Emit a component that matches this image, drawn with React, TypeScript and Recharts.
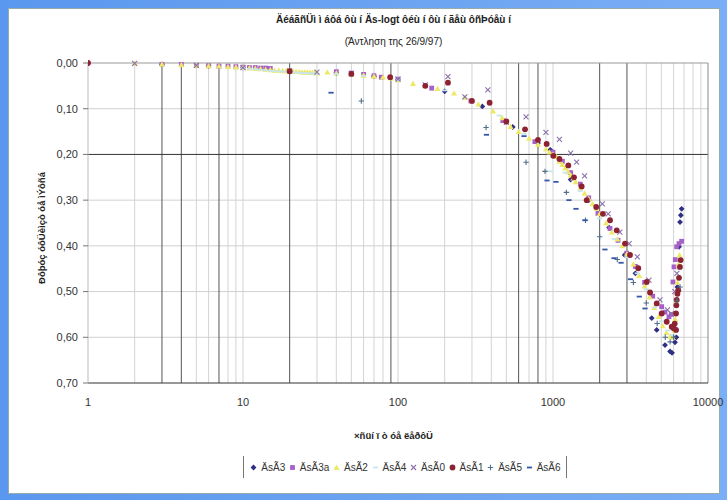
import React from "react";
import { ScatterChart, Scatter, XAxis, YAxis, ReferenceLine } from "recharts";

const title = "ÄéáãñÜì ì áôá ôù í  Äs-logt ôéù í  ôù í  ãåù ôñÞóåù í";
const subtitle = "(Άντληση της 26/9/97)";
const xTitle = "×ñüí ï ò óå ëåðôÜ";
const yTitle = "Ðôþóç óôÜèìçò óå ìÝôñá";

const xTicks = [1, 10, 100, 1000, 10000];
const yTicks = [0, 0.1, 0.2, 0.3, 0.4, 0.5, 0.6, 0.7];
const lightGridX = [2, 5, 6, 8, 9, 10, 30, 40, 50, 60, 70, 80, 100, 200, 300, 400, 500, 700, 900, 1000, 4000, 5000, 6000, 7000, 8000, 9000];
const darkGridX = [3, 4, 7, 20, 90, 600, 800, 2000, 3000];
const lightGridY = [0.1, 0.3, 0.4, 0.5, 0.6];
const darkGridY = [0.2];

const dsG3: [number, number][] = [
  [1, 0], [3, 0.003], [6, 0.006], [10, 0.01], [20, 0.018], [40, 0.022], [70, 0.029], [100, 0.036],
  [200, 0.062], [350, 0.095], [550, 0.14], [800, 0.175], [960, 0.19], [1300, 0.255], [1700, 0.3],
  [2300, 0.36], [2900, 0.42], [3400, 0.46], [4335, 0.558], [4668, 0.584], [5280, 0.617], [5690, 0.631],
  [5860, 0.634], [6125, 0.611], [6250, 0.6], [6350, 0.49], [6500, 0.402], [6600, 0.348], [6680, 0.333], [6760, 0.319],
];
const dsG3a: [number, number][] = [
  [3, 0.003], [4, 0.003], [5, 0.005], [6, 0.006], [7, 0.007], [8, 0.007], [9, 0.008], [10, 0.009],
  [11, 0.01], [12, 0.01], [13, 0.011], [14, 0.011], [15, 0.012], [40, 0.019], [50, 0.022], [60, 0.025],
  [70, 0.028], [78, 0.031], [100, 0.036], [165, 0.055], [295, 0.083], [474, 0.126], [764, 0.172],
  [1000, 0.195], [1150, 0.215], [1300, 0.24], [1500, 0.265], [1700, 0.295], [1950, 0.329], [2333, 0.362],
  [2626, 0.388], [2988, 0.416], [3400, 0.445], [3900, 0.48], [4400, 0.51], [5025, 0.533], [5280, 0.545],
  [5600, 0.555], [5800, 0.55], [5943, 0.479], [6035, 0.446], [6150, 0.43], [6280, 0.402], [6500, 0.395], [6760, 0.39],
];
const dsG2: [number, number][] = [
  [2, 0.001], [3, 0.003], [4, 0.004], [5, 0.005], [6, 0.006], [7, 0.007], [8, 0.008], [9, 0.009], [10, 0.01],
  [11, 0.011], [12, 0.012], [13, 0.013], [14, 0.014], [15, 0.015], [16, 0.016], [17, 0.016], [18, 0.017],
  [19, 0.017], [20, 0.018], [21, 0.018], [22, 0.019], [23, 0.019], [24, 0.02], [25, 0.02], [26, 0.02],
  [27, 0.021], [28, 0.021], [29, 0.021], [30, 0.022], [35, 0.02], [40, 0.022], [50, 0.024], [60, 0.027],
  [70, 0.029], [80, 0.031], [90, 0.033], [100, 0.037], [125, 0.045], [150, 0.05], [180, 0.056], [230, 0.066],
  [270, 0.075], [330, 0.09], [410, 0.105], [470, 0.12], [532, 0.139], [600, 0.15], [700, 0.165], [800, 0.178],
  [900, 0.188], [950, 0.195], [1000, 0.2], [1050, 0.205], [1100, 0.215], [1150, 0.222], [1200, 0.23],
  [1250, 0.238], [1300, 0.245], [1350, 0.252], [1400, 0.26], [1500, 0.272], [1600, 0.285], [1700, 0.297],
  [1800, 0.308], [1900, 0.318], [2000, 0.33], [2200, 0.35], [2400, 0.37], [2600, 0.385], [2800, 0.4],
  [3000, 0.418], [3300, 0.44], [3600, 0.465], [3900, 0.488], [4200, 0.512], [4500, 0.535], [4800, 0.555],
  [5100, 0.575], [5400, 0.59], [5700, 0.598], [5900, 0.6], [6050, 0.585], [6150, 0.56], [6250, 0.52],
  [6350, 0.48], [6450, 0.44], [6550, 0.42],
];
const dsG4: [number, number][] = [
  [10, 0.012], [11, 0.013], [12, 0.014], [13, 0.015], [14, 0.016], [15, 0.017], [16, 0.018], [17, 0.018],
  [18, 0.019], [19, 0.019], [20, 0.02], [21, 0.02], [22, 0.021], [23, 0.021], [24, 0.022], [25, 0.022],
  [26, 0.022], [27, 0.023], [28, 0.023], [29, 0.023], [30, 0.024], [40, 0.024], [60, 0.028], [100, 0.038],
  [200, 0.06], [300, 0.085], [450, 0.115], [650, 0.155], [960, 0.237], [1000, 0.205], [1200, 0.24],
  [1500, 0.28], [2000, 0.34], [2500, 0.385], [3000, 0.425], [3500, 0.46], [4000, 0.495], [4500, 0.535],
  [5000, 0.565], [5500, 0.585], [5900, 0.595], [6100, 0.575], [6300, 0.5], [6500, 0.45],
];
const dsG0: [number, number][] = [
  [2, 0.001], [5, 0.005], [10, 0.01], [20, 0.017], [30, 0.02], [50, 0.023], [100, 0.035], [150, 0.048],
  [210, 0.03], [270, 0.074], [380, 0.059], [500, 0.13], [670, 0.118], [900, 0.152], [1100, 0.167],
  [1300, 0.197], [1420, 0.217], [1600, 0.247], [2080, 0.308], [2270, 0.33], [2700, 0.37], [3100, 0.395],
  [3500, 0.424], [4160, 0.475], [4900, 0.518], [5470, 0.54], [5800, 0.548], [6100, 0.5], [6300, 0.46],
];
const dsG1: [number, number][] = [
  [1, 0], [20, 0.018], [50, 0.024], [89, 0.031], [150, 0.05], [210, 0.043], [300, 0.083], [390, 0.087],
  [500, 0.128], [660, 0.145], [800, 0.168], [910, 0.177], [1005, 0.203], [1100, 0.21], [1255, 0.224],
  [1366, 0.25], [1531, 0.27], [1650, 0.3], [1900, 0.315], [2100, 0.33], [2333, 0.344], [2577, 0.366],
  [2915, 0.395], [3140, 0.42], [3550, 0.449], [4024, 0.479], [4227, 0.502], [4668, 0.526], [5025, 0.548],
  [5417, 0.566], [5832, 0.577], [6000, 0.58], [6100, 0.57], [6220, 0.584], [6220, 0.548], [6250, 0.53],
  [6280, 0.518], [6350, 0.505], [6430, 0.497], [6500, 0.47], [6590, 0.446], [6665, 0.431],
];
const dsG5: [number, number][] = [
  [58, 0.083], [370, 0.141], [670, 0.217], [888, 0.237], [1220, 0.283], [1620, 0.344], [2000, 0.38],
  [2600, 0.43], [3300, 0.48], [4000, 0.525], [4700, 0.57], [5300, 0.6], [5700, 0.61], [6000, 0.6],
  [6300, 0.52], [6600, 0.49],
];
const dsG6: [number, number][] = [
  [37, 0.065], [372, 0.157], [650, 0.16], [915, 0.257], [1045, 0.26], [1268, 0.3], [1407, 0.319],
  [1607, 0.344], [2163, 0.408], [2475, 0.427], [2749, 0.437], [3162, 0.473], [3603, 0.511], [3925, 0.537],
];

const seriesNames = ["ÄsÃ3", "ÄsÃ3a", "ÄsÃ2", "ÄsÃ4", "ÄsÃ0", "ÄsÃ1", "ÄsÃ5", "ÄsÃ6"];
const seriesData = [dsG3, dsG3a, dsG2, dsG4, dsG0, dsG1, dsG5, dsG6];
const seriesColors = ["#2e2e82", "#a660c8", "#eee868", "#c8e6ea", "#8a70aa", "#8c2232", "#506e8c", "#3656a8"];
const seriesMarkers = ["diamond", "square", "triangle", "dash", "x", "circle", "plus", "dash"];

const FONT = "'Liberation Sans', Arial, sans-serif";

function Marker({ kind, color, cx, cy }: { kind: string; color: string; cx: number; cy: number }) {
  const r = 2.4;
  switch (kind) {
    case "diamond":
      return <path d={`M${cx},${cy - 2.9}L${cx + 2.9},${cy}L${cx},${cy + 2.9}L${cx - 2.9},${cy}Z`} fill={color} />;
    case "square":
      return <rect x={cx - r} y={cy - r} width={2 * r} height={2 * r} fill={color} />;
    case "triangle":
      return <path d={`M${cx},${cy - 3}L${cx + 3},${cy + 2.4}L${cx - 3},${cy + 2.4}Z`} fill={color} />;
    case "dash":
      return <rect x={cx - 2.6} y={cy - 0.9} width={5.2} height={1.8} fill={color} />;
    case "x":
      return (
        <path d={`M${cx - 2.5},${cy - 2.5}L${cx + 2.5},${cy + 2.5}M${cx - 2.5},${cy + 2.5}L${cx + 2.5},${cy - 2.5}`} stroke={color} strokeWidth={1.1} fill="none" />
      );
    case "circle":
      return <circle cx={cx} cy={cy} r={2.9} fill={color} />;
    case "plus":
      return (
        <path d={`M${cx - 2.7},${cy}L${cx + 2.7},${cy}M${cx},${cy - 2.7}L${cx},${cy + 2.7}`} stroke={color} strokeWidth={1.1} fill="none" />
      );
    default:
      return <circle cx={cx} cy={cy} r={2} fill={color} />;
  }
}

const makeShape = (kind: string, color: string) => (props: any) => {
  const { cx, cy } = props;
  if (cx == null || cy == null || isNaN(cx) || isNaN(cy)) return <g />;
  return <Marker kind={kind} color={color} cx={cx} cy={cy} />;
};

const fmt = (v: number) => v.toFixed(2).replace(".", ",");

export default function App() {
  return (
    <div style={{ position: "absolute", left: 0, top: 0, width: 727, height: 500, background: "linear-gradient(90deg, #5a97ee 0%, #7aaef5 100%)", overflow: "hidden" }}>
      <div style={{ position: "absolute", left: 8, top: 8, width: 712, height: 486, background: "#fff", border: "1px solid #9aa", boxSizing: "border-box" }} />
      <div style={{ position: "absolute", left: 0, top: 0 }}>
        <ScatterChart width={727} height={500} margin={{ top: 63, right: 19, bottom: 87, left: 28 }}>
          <XAxis
            type="number"
            dataKey="t"
            scale="log"
            domain={[1, 10000]}
            ticks={xTicks}
            allowDataOverflow
            height={30}
            tickLine={false}
            tickSize={0}
            tickMargin={15}
            axisLine={{ stroke: "#333" }}
            tick={{ fill: "#333", fontSize: 11, fontFamily: FONT }}
          />
          <YAxis
            type="number"
            dataKey="s"
            domain={[0, 0.7]}
            reversed
            ticks={yTicks}
            width={60}
            tickSize={5}
            tickMargin={5}
            tickFormatter={fmt}
            axisLine={{ stroke: "#bbb" }}
            tickLine={{ stroke: "#777" }}
            tick={{ fill: "#333", fontSize: 11, fontFamily: FONT }}
          />
          {lightGridX.map((v) => (
            <ReferenceLine key={"lx" + v} x={v} stroke="#d4d4d4" strokeWidth={1} />
          ))}
          {lightGridY.map((v) => (
            <ReferenceLine key={"ly" + v} y={v} stroke="#d0d0d0" strokeWidth={1} />
          ))}
          {darkGridX.map((v) => (
            <ReferenceLine key={"dx" + v} x={v} stroke="#555" strokeWidth={1} />
          ))}
          {darkGridY.map((v) => (
            <ReferenceLine key={"dy" + v} y={v} stroke="#333" strokeWidth={1} />
          ))}
          <ReferenceLine y={0} stroke="#999" strokeWidth={1} />
          <ReferenceLine x={10000} stroke="#888" strokeWidth={1} />
          {seriesData.map((d, i) => (
            <Scatter
              key={seriesNames[i]}
              name={seriesNames[i]}
              data={d.map(([t, s]) => ({ t, s }))}
              fill={seriesColors[i]}
              shape={makeShape(seriesMarkers[i], seriesColors[i])}
              isAnimationActive={false}
            />
          ))}
        </ScatterChart>
      </div>
      <div style={{ position: "absolute", left: 0, width: 727, top: 14, textAlign: "center", fontFamily: FONT, fontSize: 10, fontWeight: "bold", color: "#222", paddingLeft: 60, boxSizing: "border-box" }}>
        {title}
      </div>
      <div style={{ position: "absolute", left: 0, width: 727, top: 36, textAlign: "center", fontFamily: FONT, fontSize: 10, color: "#222", paddingLeft: 60, boxSizing: "border-box" }}>
        {subtitle}
      </div>
      <div style={{ position: "absolute", left: 41, top: 228, transform: "translate(-50%, -50%) rotate(-90deg)", whiteSpace: "nowrap", fontFamily: FONT, fontSize: 9.5, fontWeight: "bold", color: "#222" }}>
        {yTitle}
      </div>
      <div style={{ position: "absolute", left: 0, width: 727, top: 430, textAlign: "center", fontFamily: FONT, fontSize: 9.5, fontWeight: "bold", color: "#222", paddingLeft: 60, boxSizing: "border-box" }}>
        {xTitle}
      </div>
      <div style={{ position: "absolute", left: 243, top: 456, width: 324, height: 22, borderLeft: "1px solid #777", borderRight: "1px solid #777", display: "flex", alignItems: "center", justifyContent: "space-around", fontFamily: FONT, fontSize: 10, color: "#333", boxSizing: "border-box", padding: "0 4px" }}>
        {seriesNames.map((n, i) => (
          <span key={n} style={{ display: "inline-flex", alignItems: "center", whiteSpace: "nowrap" }}>
            <svg width={9} height={9} style={{ marginRight: 3 }}>
              <Marker kind={seriesMarkers[i]} color={seriesColors[i]} cx={4.5} cy={4.5} />
            </svg>
            {n}
          </span>
        ))}
      </div>
    </div>
  );
}
